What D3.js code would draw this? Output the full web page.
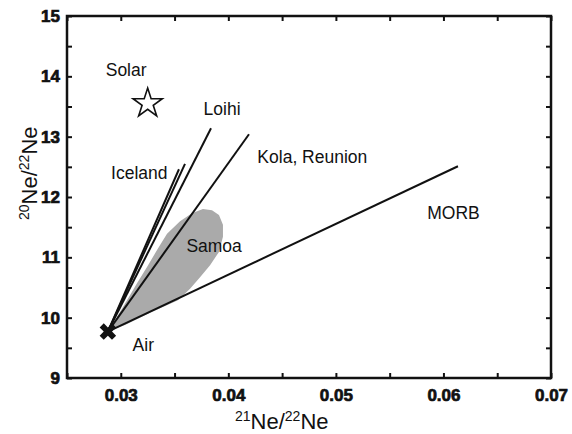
<!DOCTYPE html>
<html>
<head>
<meta charset="utf-8">
<script src="https://cdn.jsdelivr.net/npm/d3@7"></script>
<style>
  body { margin: 0; background: #fff; }
  svg { display: block; font-family: "Liberation Sans", Arial, sans-serif; }
  .tick text { font-family: "Liberation Sans", Arial, sans-serif; font-size: 17px; font-weight: bold; }
</style>
</head>
<body>
<div id="chart"></div>
<script>
// Data (21Ne/22Ne, 20Ne/22Ne)
const air = [0.0288, 9.77];
const solar = [0.0325, 13.55];

const trendNames = ["Iceland A", "Iceland B", "Loihi", "Kola, Reunion", "MORB"];
const trendEnds = [
    [0.03541, 12.46],
    [0.03597, 12.55],
    [0.03839, 13.14],
    [0.04192, 13.04],
    [0.06135, 12.51]
];

const samoaField = [
    [0.03764, 11.80], [0.03848, 11.78], [0.03913, 11.70], [0.03950, 11.54],
    [0.03950, 11.34], [0.03913, 11.09], [0.03830, 10.87], [0.03737, 10.67],
    [0.03644, 10.48], [0.03532, 10.29], [0.03272, 10.08], [0.03039, 9.88],
    [0.02918, 9.80], [0.02965, 10.01], [0.03058, 10.29], [0.03151, 10.57],
    [0.03244, 10.84], [0.03337, 11.12], [0.03430, 11.39], [0.03551, 11.60],
    [0.03662, 11.73]
];

const labelTexts = ["Solar", "Loihi", "Iceland", "Kola, Reunion", "Samoa", "MORB", "Air"];
const labelAnchors = [
    [0.0286, 14.0], [0.0377, 13.36], [0.0291, 12.30], [0.0427, 12.56],
    [0.0361, 11.09], [0.0585, 11.64], [0.0311, 9.45]
];

const xTicks = [0.025, 0.03, 0.035, 0.04, 0.045, 0.05, 0.055, 0.06, 0.065, 0.07];
const yTicks = [9, 9.5, 10, 10.5, 11, 11.5, 12, 12.5, 13, 13.5, 14, 14.5, 15];

const W = 572, H = 434;
const margin = { top: 16, right: 21, bottom: 56, left: 67 };
const width = W - margin.left - margin.right;
const height = H - margin.top - margin.bottom;

const svg = d3.select("#chart").append("svg")
    .attr("width", W)
    .attr("height", H);

svg.append("rect").attr("width", W).attr("height", H).attr("fill", "#fff");

const g = svg.append("g")
    .attr("transform", `translate(${margin.left},${margin.top})`);

const x = d3.scaleLinear().domain([0.025, 0.07]).range([0, width]);
const y = d3.scaleLinear().domain([9, 15]).range([height, 0]);

const isMajorX = d => Math.abs(d * 100 - Math.round(d * 100)) < 1e-6 && d > 0.026;
const isMajorY = d => Number.isInteger(d);

// Axes (ticks pointing inward on all four sides)
const axBottom = g.append("g")
    .attr("transform", `translate(0,${height})`)
    .call(d3.axisBottom(x).tickValues(xTicks).tickSize(-5).tickPadding(11)
        .tickFormat(d => isMajorX(d) ? d.toFixed(2) : ""));
const axLeft = g.append("g")
    .call(d3.axisLeft(y).tickValues(yTicks).tickSize(-5).tickPadding(7)
        .tickFormat(d => isMajorY(d) ? d : ""));
const axTop = g.append("g")
    .call(d3.axisTop(x).tickValues(xTicks).tickSize(-5).tickFormat(""));
const axRight = g.append("g")
    .attr("transform", `translate(${width},0)`)
    .call(d3.axisRight(y).tickValues(yTicks).tickSize(-5).tickFormat(""));

[axBottom, axLeft, axTop, axRight].forEach(a => {
    a.attr("font-size", 17).attr("font-weight", "bold")
        .attr("font-family", "'Liberation Sans', Arial, sans-serif");
    a.select(".domain").remove();
    a.selectAll("line").attr("stroke", "#111").attr("stroke-width", 2);
    a.selectAll("text")
        .attr("fill", "#111")
        .attr("stroke", "#111")
        .attr("stroke-width", 0.7);
});

// Samoa field
g.append("path")
    .datum(samoaField)
    .attr("fill", "#aaaaaa")
    .attr("stroke", "none")
    .attr("d", d3.line().x(d => x(d[0])).y(d => y(d[1])).curve(d3.curveLinearClosed));

// Mixing lines from air
g.selectAll(".trend")
    .data(trendEnds)
    .enter().append("line")
    .attr("class", "trend")
    .attr("x1", x(air[0]))
    .attr("y1", y(air[1]))
    .attr("x2", d => x(d[0]))
    .attr("y2", d => y(d[1]))
    .attr("stroke", "#111")
    .attr("stroke-width", 2);

// Frame
g.append("rect")
    .attr("width", width)
    .attr("height", height)
    .attr("fill", "none")
    .attr("stroke", "#111")
    .attr("stroke-width", 2.5);

// Air marker
g.append("path")
    .attr("d", d3.symbol(d3.symbolCross, 170)())
    .attr("transform", `translate(${x(air[0])},${y(air[1])}) rotate(45)`)
    .attr("fill", "#111");

// Solar star
g.append("path")
    .attr("d", d3.symbol(d3.symbolStar, 265)())
    .attr("transform", `translate(${x(solar[0])},${y(solar[1])})`)
    .attr("fill", "#fff")
    .attr("stroke", "#111")
    .attr("stroke-width", 1.6);

// Labels
g.selectAll(".lbl")
    .data(labelTexts)
    .enter().append("text")
    .attr("class", "lbl")
    .attr("x", (d, i) => x(labelAnchors[i][0]))
    .attr("y", (d, i) => y(labelAnchors[i][1]))
    .attr("fill", "#111")
    .style("font-size", "17.5px")
    .text(d => d);

// Axis titles
const xt = svg.append("text")
    .attr("x", 235)
    .attr("y", 429)
    .attr("fill", "#111")
    .style("font-size", "22px");
xt.append("tspan").attr("font-size", "14px").attr("dy", -8).text("21");
xt.append("tspan").attr("dy", 8).text("Ne/");
xt.append("tspan").attr("font-size", "14px").attr("dy", -8).text("22");
xt.append("tspan").attr("dy", 8).text("Ne");

const yt = svg.append("text")
    .attr("transform", "translate(37,220) rotate(-90)")
    .attr("fill", "#111")
    .style("font-size", "22px");
yt.append("tspan").attr("font-size", "14px").attr("dy", -8).text("20");
yt.append("tspan").attr("dy", 8).text("Ne/");
yt.append("tspan").attr("font-size", "14px").attr("dy", -8).text("22");
yt.append("tspan").attr("dy", 8).text("Ne");
</script>
</body>
</html>
